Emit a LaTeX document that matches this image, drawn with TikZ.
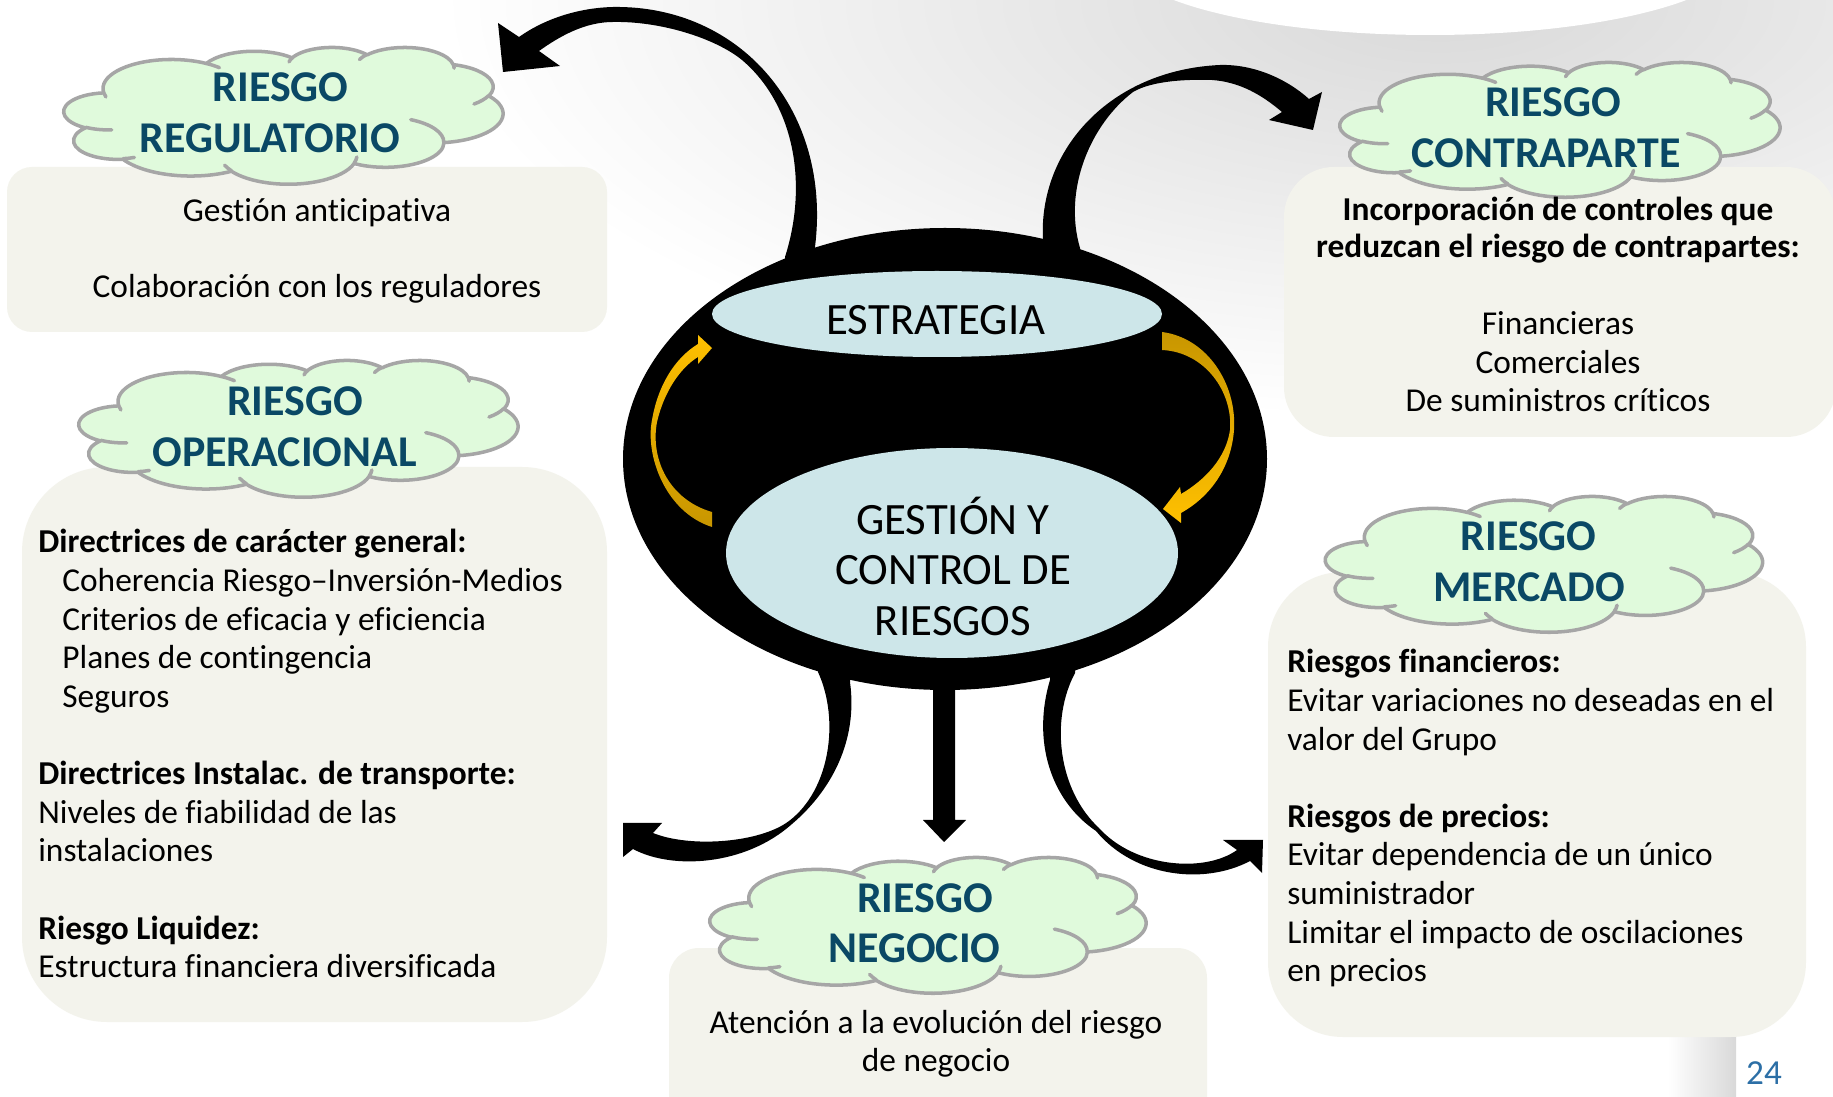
\documentclass[tikz,border=0pt]{standalone}
\usepackage{fontspec}
\setmainfont{Carlito}[Ligatures={NoCommon,NoContextual}]
\definecolor{panel}{HTML}{F3F3EC}
\definecolor{cloudfill}{HTML}{E0FADC}
\definecolor{cloudline}{HTML}{A6A6A6}
\definecolor{titlecol}{HTML}{0A4865}
\definecolor{ellblue}{HTML}{CDE6E9}
\definecolor{yelA}{HTML}{FFC000}
\definecolor{yelB}{HTML}{C89600}
\definecolor{pagenum}{HTML}{2C6FA6}
\newcommand\cldarc[4]{arc[start angle={atan2(#1*sin(#3),#2*cos(#3))},delta angle={mod(atan2(#1*sin(#3+#4),#2*cos(#3+#4))-atan2(#1*sin(#3),#2*cos(#3))+720,360)},x radius=#1,y radius=#2]}
\tikzset{
  body/.style={font=\fontsize{19}{22}\selectfont, inner sep=0pt, anchor=base west},
  bodyb/.style={body, font=\fontsize{19}{22}\selectfont\bfseries},
  bodyc/.style={body, anchor=base},
  bodycb/.style={bodyb, anchor=base},
  ttl/.style={font=\fontsize{25}{30}\selectfont\bfseries, text=titlecol, inner sep=0pt, anchor=base},
  core/.style={font=\fontsize{25.5}{30}\selectfont, inner sep=0pt, anchor=base},
  cloudbody/.style={fill=cloudfill, draw=cloudline, line width=2pt, line join=round},
  cloudedge/.style={draw=cloudline, line width=2pt, line cap=round},
  blk/.style={fill=black},
}
\newcommand\pptcloud[5]{%
  \pgfmathsetmacro\cldx{#4*0.02/432}%
  \pgfmathsetmacro\cldy{-#5*0.02/432}%
  \begin{scope}[shift={(#2-#4/2,#3-#5/2)}, x=\cldx cm, y=\cldy cm]
    \path[cloudbody] (39,143.70) \cldarc{67.53}{91.90}{-190.4875}{123.7805}
      \cldarc{53.33}{72.67}{-144.1024}{89.9452}
      \cldarc{43.65}{59.45}{-145.8079}{99.7230}
      \cldarc{48.57}{65.95}{-130.9861}{117.2417}
      \cldarc{53.33}{72.73}{-78.7089}{109.0269}
      \cldarc{67.75}{92.20}{-46.2673}{130.2690}
      \cldarc{57.85}{78.67}{0.6250}{114.0333}
      \cldarc{67.52}{92.15}{22.4516}{115.1726}
      \cldarc{77.20}{105.43}{66.2426}{75.7110}
      \cldarc{43.60}{59.18}{-274.9421}{146.7356}
      \cldarc{43.45}{59.45}{-246.8285}{152.5189} -- cycle;
    \path[cloudedge] (46.93,261.77) \cldarc{43.45}{59.45}{86.742}{26.4295}
      (69.28,348.99) \cldarc{43.60}{59.18}{73.6105}{11.4475}
      (164.78,390.90) \cldarc{67.52}{92.15}{137.6242}{14.0811}
      (288.27,347.51) \cldarc{67.52}{92.15}{6.4533}{15.9984}
      (341.29,229.54) \cldarc{57.85}{78.67}{-70.2924}{70.9174}
      (417.98,153.54) \cldarc{53.33}{72.73}{30.318}{27.7515}
      (383.24,54.26) \cldarc{48.57}{65.95}{-13.7443}{14.8589}
      (290.78,39.52) \cldarc{48.57}{65.95}{-149.1815}{18.1954}
      (221.41,47.20) \cldarc{43.65}{59.45}{-163.4943}{17.6864}
      (140.00,51.92) \cldarc{67.53}{91.90}{-66.7070}{12.3194}
      (41.27,157.89) \cldarc{67.53}{91.90}{157.6544}{11.8582};
    \coordinate (#1) at (216,216);
  \end{scope}}
\begin{document}
\begin{tikzpicture}[x=0.02cm,y=-0.02cm]
\useasboundingbox (0,0) rectangle (1833,1097);
\fill[white] (0,0) rectangle (1833,1097);
% background swoosh
\shade[inner color=black!15,outer color=white] (1440,0) ellipse [x radius=1000,y radius=420];
\fill[white] (1430,-45) ellipse [x radius=310,y radius=80];
\shade[left color=white,right color=black!15] (1668,990) rectangle (1736,1097);

% panels
\fill[panel,rounded corners=0.5cm] (7,167) rectangle (607,332);
\fill[panel,rounded corners=1.7cm] (22,467) rectangle (607,1022);
\fill[panel,rounded corners=1.0cm] (1284,167) rectangle (1836,437);
\fill[panel,rounded corners=1.5cm] (1268,572) rectangle (1806,1037);
\fill[panel,rounded corners=0.6cm] (669,948) rectangle (1207,1130);

% black arrows
\fill[blk] (815,278) -- (815,247) .. controls (832,110) and (740,5) .. (613,7) .. controls (573,8) and (540,22) .. (519,37) -- (498,23) -- (503,72) -- (560,66) -- (539,51) .. controls (560,36) and (585,22) .. (613,22) .. controls (660,21) and (715,38) .. (742,60) .. controls (795,105) and (808,185) .. (785,257) -- (785,278) -- cycle;
\fill[blk] (1043,272) -- (1043,240) .. controls (1038,150) and (1110,70) .. (1220,65) .. controls (1255,64) and (1288,80) .. (1309,99) -- (1322,92) -- (1313,130) -- (1269,120) -- (1282,112) .. controls (1262,95) and (1240,82) .. (1212,80) .. controls (1180,79) and (1150,82) .. (1133,92) .. controls (1090,125) and (1063,190) .. (1080,248) -- (1080,272) -- cycle;
\fill[blk] (818,650) -- (818,672) .. controls (840,720) and (830,790) .. (789,821) .. controls (760,843) and (690,848) .. (653,833) -- (662,823) -- (623,823) -- (623,857) -- (633,849) .. controls (672,870) and (745,866) .. (792,824) .. controls (832,790) and (858,740) .. (850,682) -- (850,650) -- cycle;
\fill[blk] (933,680) -- (933,820) -- (923,820) -- (944,842) -- (966,820) -- (955,820) -- (955,680) -- cycle;
\fill[blk] (1052,655) -- (1050,680) .. controls (1032,740) and (1050,800) .. (1096,831) .. controls (1135,878) and (1205,885) .. (1250,861) -- (1262,873) -- (1263,840) -- (1223,840) -- (1237,850) .. controls (1205,873) and (1135,868) .. (1099,828) .. controls (1058,790) and (1050,720) .. (1075,673) -- (1077,655) -- cycle;

% core
\fill[black] (945,459) ellipse [x radius=322,y radius=231];
\fill[ellblue] (937,314) ellipse [x radius=225,y radius=43];
\fill[ellblue] (952,553) ellipse [x radius=226,y radius=105];

% yellow arrows
\shade[top color=yelA,bottom color=yelB] (712,527) .. controls (665,512) and (645,455) .. (652,420) .. controls (658,385) and (675,358) .. (698,344) -- (698,335) -- (712,348) -- (698,364) -- (698,357) .. controls (680,368) and (664,392) .. (657,422) .. controls (650,460) and (670,500) .. (712,512) -- cycle;
\shade[top color=yelB,bottom color=yelA] (1162,332) .. controls (1208,338) and (1237,385) .. (1234,430) .. controls (1231,470) and (1208,498) .. (1181,513) -- (1181,523) -- (1163,509) -- (1180,487) -- (1181,494) .. controls (1205,480) and (1226,458) .. (1230,430) .. controls (1233,392) and (1205,352) .. (1162,350) -- cycle;

% core texts
\node[core] (estr) at (936,335) {ESTRATEGIA};
\node[core] (gest1) at (953,535) {GESTIÓN Y};
\node[core] (gest2) at (953,585) {CONTROL DE};
\node[core] (gest3) at (953,636) {RIESGOS};

% clouds
\pptcloud{cReg}{283.5}{115.5}{439}{137}
\pptcloud{cOpe}{298.5}{428.5}{439}{137}
\pptcloud{cCon}{1560}{129.5}{440}{135}
\pptcloud{cMer}{1544}{564}{437}{136}
\pptcloud{cNeg}{928}{925}{436}{136}

% cloud titles
\node[ttl] (regA) at (280.5,102) {RIESGO};
\node[ttl] (regB) at (270,153) {REGULATORIO};
\node[ttl] (opeA) at (295,416) {RIESGO};
\node[ttl] (opeB) at (284.5,467) {OPERACIONAL};
\node[ttl] (conA) at (1553,117) {RIESGO};
\node[ttl] (conB) at (1546.5,168) {CONTRAPARTE};
\node[ttl] (merA) at (1528.5,551) {RIESGO};
\node[ttl] (merB) at (1529,602) {MERCADO};
\node[ttl] (negA) at (925,912) {RIESGO};
\node[ttl] (negB) at (914.5,962) {NEGOCIO};

% regulatorio text
\node[bodyc] (reg1) at (317,222) {Gestión anticipativa};
\node[bodyc] (reg2) at (317,298) {Colaboración con los reguladores};

% operacional text
\node[bodyb] (ope1) at (38,553) {Directrices de carácter general:};
\node[body] (ope2) at (62,591.6) {Coherencia Riesgo–Inversión-Medios};
\node[body] (ope3) at (62,630.2) {Criterios de eficacia y eficiencia};
\node[body] (ope4) at (62,668.8) {Planes de contingencia};
\node[body] (ope5) at (62,707.4) {Seguros};
\node[bodyb] (ope6) at (38,784.6) {Directrices Instalac. de transporte:};
\node[body] (ope7) at (38,823.2) {Niveles de fiabilidad de las};
\node[body] (ope8) at (38,861.8) {instalaciones};
\node[bodyb] (ope9) at (38,939) {Riesgo Liquidez:};
\node[body] (ope10) at (38,977.6) {Estructura financiera diversificada};

% contraparte text
\node[bodycb] (con1) at (1558,220.5) {Incorporación de controles que};
\node[bodycb] (con2) at (1558,258) {reduzcan el riesgo de contrapartes:};
\node[bodyc] (con3) at (1558,335) {Financieras};
\node[bodyc] (con4) at (1558,373.5) {Comerciales};
\node[bodyc] (con5) at (1558,412) {De suministros críticos};

% mercado text
\node[bodyb] (mer1) at (1287,673) {Riesgos financieros:};
\node[body] (mer2) at (1287,711.6) {Evitar variaciones no deseadas en el};
\node[body] (mer3) at (1287,750.2) {valor del Grupo};
\node[bodyb] (mer4) at (1287,827.4) {Riesgos de precios:};
\node[body] (mer5) at (1287,866) {Evitar dependencia de un único};
\node[body] (mer6) at (1287,904.6) {suministrador};
\node[body] (mer7) at (1287,943.2) {Limitar el impacto de oscilaciones};
\node[body] (mer8) at (1287,981.8) {en precios};

% negocio text
\node[bodyc] (neg1) at (936,1033) {Atención a la evolución del riesgo};
\node[bodyc] (neg2) at (936,1071) {de negocio};

% page number
\node[inner sep=0pt, anchor=base, text=pagenum, font=\fontsize{20}{24}\selectfont] (pnum) at (1764,1084) {24};
\end{tikzpicture}
\end{document}
